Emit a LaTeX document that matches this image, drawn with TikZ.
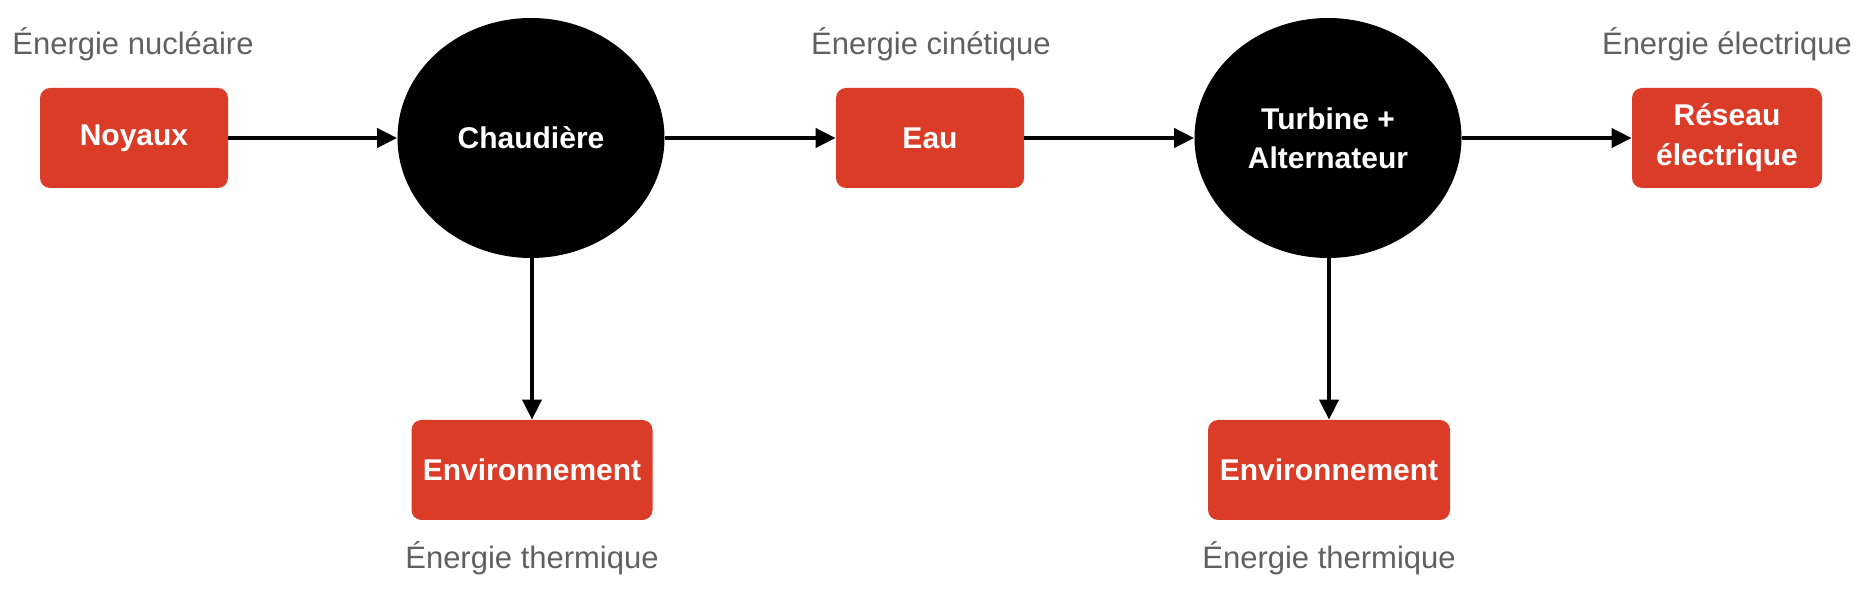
\documentclass[tikz,border=0pt]{standalone}
\usepackage{fontspec}
\setmainfont{Liberation Sans}
\usetikzlibrary{arrows.meta,shapes.geometric}
\definecolor{boxred}{RGB}{218,60,40}
\definecolor{txtgray}{RGB}{96,96,96}
\tikzset{
	box/.style={rectangle, rounded corners=5pt, fill=boxred, text=white,
		font=\fontsize{15}{20}\selectfont\bfseries, align=center,
		minimum height=50pt, inner sep=0pt},
	blob/.style={ellipse, fill=black, text=white, align=center,
		font=\fontsize{15}{19.5}\selectfont\bfseries,
		minimum width=133.5pt, minimum height=120pt, inner sep=0pt},
	energie/.style={text=txtgray, font=\fontsize{15.5}{18}\selectfont, inner sep=0pt},
	fleche/.style={-{Triangle[length=10pt,width=9.5pt]}, line width=2pt}
}
\begin{document}
\begin{tikzpicture}[x=0.5pt, y=-0.5pt]
			\useasboundingbox (0,0) rectangle (1870,592);

			\node[box, minimum width=94pt] (noyaux) at (134,138) {Noyaux};
			\node[blob] (chaud) at (531,138) {Chaudière};
			\node[box, minimum width=94pt] (eau) at (930,138) {Eau};
			\node[blob] (turbine) at (1328,138) {Turbine +\\Alternateur};
			\node[box, minimum width=95pt] (reseau) at (1727,138) {Réseau\\électrique};
			\node[box, minimum width=120.5pt] (env1) at (532,470) {Environnement};
			\node[box, minimum width=121pt] (env2) at (1329,470) {Environnement};

			% types d'energie
			\node[energie] (e1) at (133,44) {Énergie nucléaire};
			\node[energie] (e2) at (931,44) {Énergie cinétique};
			\node[energie] (e3) at (1727,44) {Énergie électrique};
			\node[energie] (e4) at (532,558) {Énergie thermique};
			\node[energie] (e5) at (1329,558) {Énergie thermique};

			\draw[fleche] (noyaux) -- (chaud);
			\draw[fleche] (chaud) -- (eau);
			\draw[fleche] (eau) -- (turbine);
			\draw[fleche] (turbine) -- (reseau);
			\draw[fleche] (chaud.south -| env1.north) -- (env1);
			\draw[fleche] (turbine.south -| env2.north) -- (env2);
		\end{tikzpicture}
\end{document}
